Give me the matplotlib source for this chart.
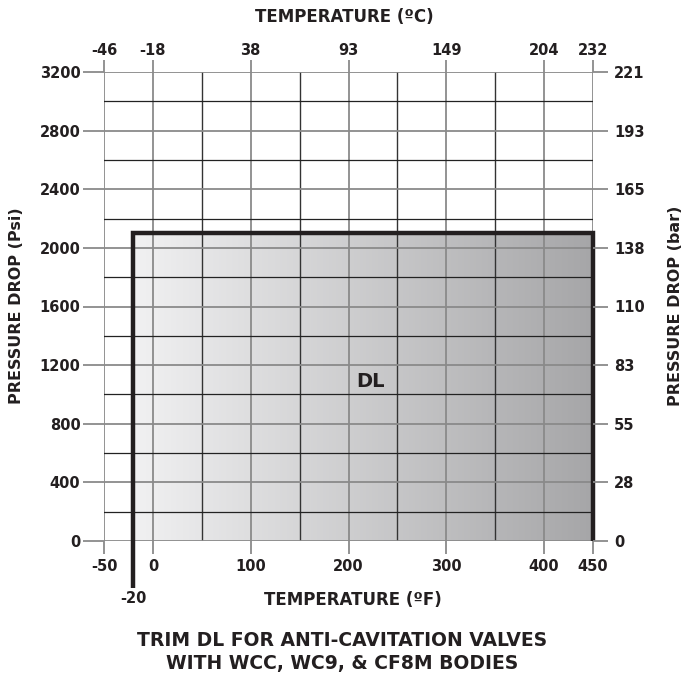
"""
Trim DL pressure drop vs temperature chart
"""

import numpy as np
import matplotlib.pyplot as plt
from matplotlib.colors import LinearSegmentedColormap

# axis ticks (deg F / psi) and their secondary labels
f_ticks = [-50, 0, 100, 200, 300, 400, 450]
c_labels = ['-46', '-18', '38', '93', '149', '204', '232']
f_minor = [50, 150, 250, 350]
psi_ticks = [0, 400, 800, 1200, 1600, 2000, 2400, 2800, 3200]
bar_labels = ['0', '28', '55', '83', '110', '138', '165', '193', '221']
psi_minor = [200, 600, 1000, 1400, 1800, 2200, 2600, 3000]

# DL operating envelope
dl_temp = [-20, 450]
dl_psi_max = 2100
dl_low_ext = -320   # how far the -20 line drops below the axis

txt = '#231f20'
grid_gray = '#8a8a8a'

fig = plt.figure(figsize=(6.84, 6.79), dpi=100)
ax = fig.add_axes([104 / 684, 138 / 679, 489 / 684, 469 / 679])
ax.set_xlim(-50, 450)
ax.set_ylim(0, 3200)
for s in ax.spines.values():
    s.set_visible(False)

# gradient fill of the DL region
cmap = LinearSegmentedColormap.from_list('dl', ['#f1f1f2', '#a6a6a8'])
grad = np.linspace(0, 1, 256).reshape(1, -1)
ax.imshow(grad, cmap=cmap, aspect='auto', zorder=1,
          extent=[dl_temp[0], dl_temp[1], 0, dl_psi_max])

# grid
for x in f_ticks:
    ax.axvline(x, color=grid_gray, lw=1.3, zorder=2)
for x in f_minor:
    ax.axvline(x, color='#333333', lw=1.0, zorder=2)
for y in psi_ticks:
    ax.axhline(y, color=grid_gray, lw=1.3, zorder=2)
for y in psi_minor:
    ax.axhline(y, color='#222222', lw=0.9, zorder=2)

# thick envelope border
ax.plot([dl_temp[0], dl_temp[0], dl_temp[1], dl_temp[1]],
        [dl_low_ext, dl_psi_max, dl_psi_max, 0],
        color='#231f20', lw=3.2, solid_capstyle='butt',
        solid_joinstyle='miter', zorder=5, clip_on=False)
ax.text(dl_temp[0], -390, '-20', ha='center', va='center',
        fontsize=10.5, fontweight='bold', color=txt, clip_on=False)
ax.text(222, 1090, 'DL', ha='center', va='center',
        fontsize=14, fontweight='bold', color=txt, zorder=6)

# primary ticks
ax.set_xticks(f_ticks)
ax.set_xticklabels([str(v) for v in f_ticks])
ax.set_yticks(psi_ticks)
ax.set_yticklabels([str(v) for v in psi_ticks])
ax.tick_params(axis='x', length=9, width=1.3, color=grid_gray, pad=4,
               labelsize=10.5, labelcolor=txt)
ax.tick_params(axis='y', length=15, width=1.3, color=grid_gray, pad=2,
               labelsize=10.5, labelcolor=txt)
for lbl in ax.get_xticklabels() + ax.get_yticklabels():
    lbl.set_fontweight('bold')

# celsius axis on top
axt = ax.twiny()
axt.set_xlim(ax.get_xlim())
axt.set_xticks(f_ticks)
axt.set_xticklabels(c_labels)
axt.tick_params(axis='x', length=9, width=1.3, color=grid_gray, pad=1,
                labelsize=10.5, labelcolor=txt)

# bar axis on right
axr = ax.twinx()
axr.set_ylim(ax.get_ylim())
axr.set_yticks(psi_ticks)
axr.set_yticklabels(bar_labels)
axr.tick_params(axis='y', length=11, width=1.3, color=grid_gray, pad=4,
                labelsize=10.5, labelcolor=txt)
for a in (axt, axr):
    for s in a.spines.values():
        s.set_visible(False)
for lbl in axt.get_xticklabels() + axr.get_yticklabels():
    lbl.set_fontweight('bold')

# axis titles
fig.text(344 / 684, 1 - 17 / 679, 'TEMPERATURE (ºC)', ha='center', va='center',
         fontsize=12, fontweight='bold', color=txt)
fig.text(353 / 684, 1 - 600 / 679, 'TEMPERATURE (ºF)', ha='center', va='center',
         fontsize=12, fontweight='bold', color=txt)
fig.text(17 / 684, 1 - 306 / 679, 'PRESSURE DROP (Psi)', ha='center', va='center',
         rotation=90, fontsize=11.5, fontweight='bold', color=txt)
fig.text(676 / 684, 1 - 306 / 679, 'PRESSURE DROP (bar)', ha='center', va='center',
         rotation=90, fontsize=11.5, fontweight='bold', color=txt)

# chart title
fig.text(342 / 684, 1 - 652 / 679,
         'TRIM DL FOR ANTI-CAVITATION VALVES\nWITH WCC, WC9, & CF8M BODIES',
         ha='center', va='center', fontsize=13.5, fontweight='bold', color=txt,
         linespacing=1.2)

fig.savefig('out.png', dpi=100)
